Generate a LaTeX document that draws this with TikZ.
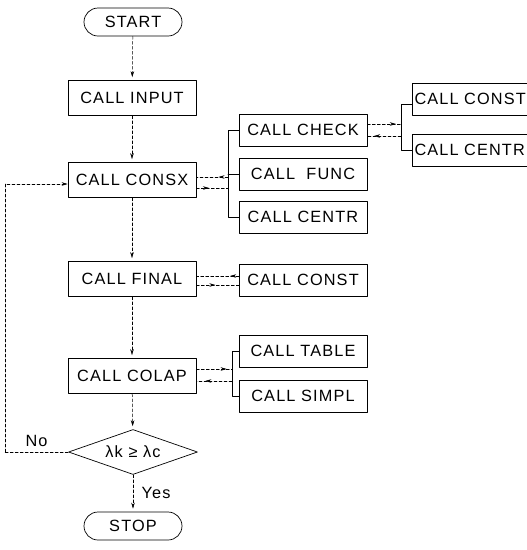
\documentclass[tikz,border=0pt]{standalone}
\usepackage{fontspec}
\setmainfont{Liberation Sans}[LetterSpace=7]
\usetikzlibrary{shapes.geometric,arrows.meta,decorations.markings}

\begin{document}
\begin{tikzpicture}[x=1pt, y=-1pt, font=\fontsize{16.3}{18}\selectfont, line join=round, line cap=round, >={Stealth[length=6pt,width=3.5pt]},
	box/.style={draw, line width=0.7pt, minimum width=128pt, minimum height=35pt, inner sep=0pt},
	subbox/.style={box, minimum height=32pt},
	cutbox/.style={subbox, text width=123pt, align=left, inner xsep=2.5pt},
	term/.style={draw, line width=0.7pt, rounded corners=14pt, minimum width=98pt, minimum height=28pt, inner sep=0pt},
	dec/.style={draw, line width=0.7pt, diamond, aspect=2.85, minimum width=129pt, minimum height=45pt, inner sep=0pt},
	link/.style={densely dashed, line width=0.5pt},
	bus/.style={line width=0.6pt},
	mid/.style={postaction={decorate,decoration={markings,mark=at position #1 with {\arrow{>}}}}}]
	\useasboundingbox (0,0) rectangle (527,550);
	% main column
	\node[term] (start) at (133,22) {START};
	\node[box] (input) at (132,98) {CALL INPUT};
	\node[box] (consx) at (132,180) {CALL CONSX};
	\node[box] (final) at (132,279) {CALL FINAL};
	\node[box] (colap) at (132,376) {CALL COLAP};
	\node[dec] (test) at (133,452) {λk ≥ λc};
	\node[term] (stop) at (133,526) {STOP};
	% called routines
	\node[subbox] (check) at (303,130) {CALL CHECK};
	\node[subbox] (func) at (303,174) {CALL\ \ FUNC};
	\node[subbox] (centrA) at (303,217) {CALL CENTR};
	\node[subbox] (constA) at (303,280) {CALL CONST};
	\node[subbox] (table) at (303,351) {CALL TABLE};
	\node[subbox] (simpl) at (303,396) {CALL SIMPL};
	\node[cutbox] (constB) at (476,99) {CALL CONST};
	\node[cutbox] (centrB) at (476,150) {CALL CENTR};
	% flow
	\draw[link,->,shorten >=3pt] (start) -- (input);
	\draw[link,->,shorten >=3pt] (input) -- (consx);
	\draw[link,->,shorten >=3pt] (consx) -- (final);
	\draw[link,->,shorten >=3pt] (final) -- (colap);
	\draw[link,->,shorten >=3pt] (colap) -- (test);
	\draw[link,->,shorten >=3pt] (test) -- node[right=5pt]{Yes} (stop);
	\coordinate (back) at (5,452);
	\draw[link] (test.west) -- node[above=2pt]{No} (back);
	\draw[link,->] (back) |- ([yshift=-4pt]consx.west);
	% buses
	\coordinate (busA) at (228,180);
	\coordinate (busB) at (232,374);
	\coordinate (busC) at (401,130);
	\draw[bus] (check.west) -| (busA);
	\draw[bus] (centrA.west) -| (busA);
	\draw[bus] (func.west) -- (func.west -| busA);
	\draw[bus] (table.west) -| (busB);
	\draw[bus] (simpl.west) -| (busB);
	\draw[bus] ([yshift=-5pt]constB.west) -| (busC);
	\draw[bus] (centrB.west) -| (busC);
	% calls and returns
	\coordinate (cx1) at ([yshift=-8pt]consx.east);
	\coordinate (cx2) at ([yshift=3pt]consx.east);
	\draw[link,mid=.4] (cx1) -- (cx1 -| busA);
	\draw[link,mid=.3] (cx2 -| busA) -- (cx2);
	\coordinate (fn1) at ([yshift=-6pt]final.east);
	\coordinate (fn2) at ([yshift=3pt]final.east);
	\draw[link,mid=.45] (fn1) -- (fn1 -| constA.west);
	\draw[link,mid=.2] (fn2 -| constA.west) -- (fn2);
	\coordinate (cl1) at ([yshift=7pt]colap.east);
	\coordinate (cl2) at ([yshift=-5pt]colap.east);
	\draw[link,mid=.85] (cl1) -- (cl1 -| busB);
	\draw[link,mid=.75] (cl2 -| busB) -- (cl2);
	\coordinate (ck1) at ([yshift=6pt]check.east);
	\coordinate (ck2) at ([yshift=-6pt]check.east);
	\draw[link,mid=.85] (ck1) -- (ck1 -| busC);
	\draw[link,mid=.8] (ck2 -| busC) -- (ck2);
\end{tikzpicture}
\end{document}
